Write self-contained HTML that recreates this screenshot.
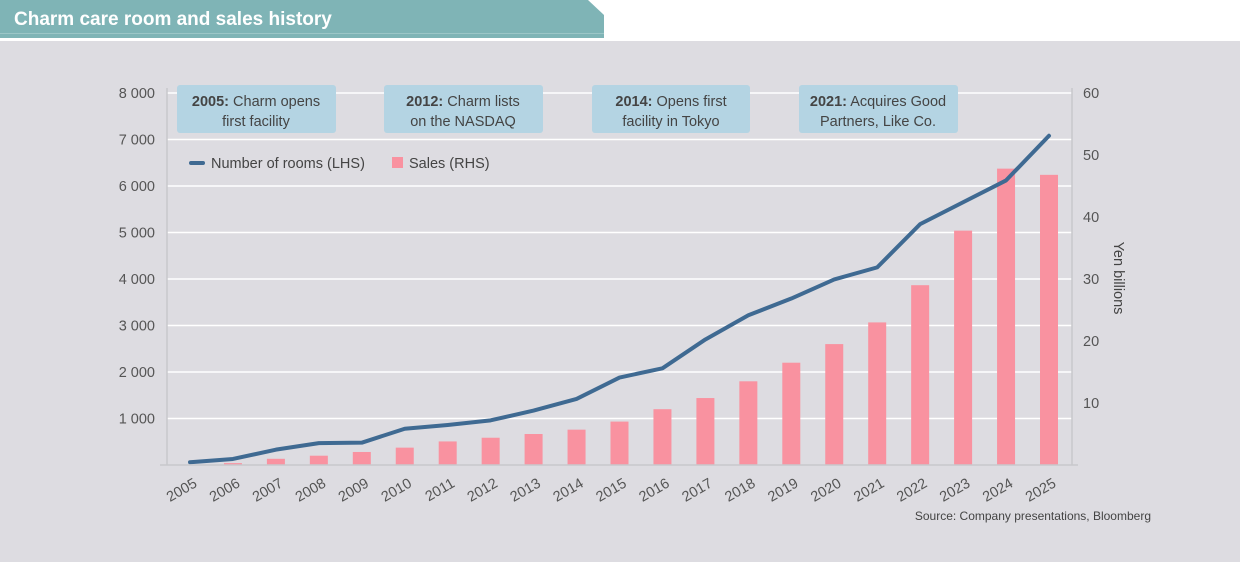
<!DOCTYPE html>
<html><head><meta charset="utf-8"><style>
body{margin:0;width:1240px;height:562px;overflow:hidden;background:#fff;font-family:"Liberation Sans",sans-serif}
svg text{font-family:"Liberation Sans",sans-serif}
</style></head><body>
<svg id="c" width="1240" height="562" xmlns="http://www.w3.org/2000/svg">
<rect x="0" y="41" width="1240" height="521" fill="#dddce1"/>
<polygon points="0,0 588,0 604,15 604,38 0,38" fill="#7fb4b6"/>
<rect x="0" y="33" width="604" height="1" fill="#9cc6c7"/>
<text x="14" y="25" font-size="19" font-weight="bold" fill="#fff">Charm care room and sales history</text>
<g id="grid"></g><g id="bars"></g><g id="line"></g><g id="axes"></g>
<g>
<rect x="177" y="85" width="159" height="48" rx="3" fill="#b4d4e3"/>
<text x="256" y="106" font-size="14.5" fill="#444" text-anchor="middle"><tspan font-weight="bold">2005:</tspan> Charm opens</text>
<text x="256" y="126" font-size="14.5" fill="#444" text-anchor="middle">first facility</text>
<rect x="384" y="85" width="159" height="48" rx="3" fill="#b4d4e3"/>
<text x="463" y="106" font-size="14.5" fill="#444" text-anchor="middle"><tspan font-weight="bold">2012:</tspan> Charm lists</text>
<text x="463" y="126" font-size="14.5" fill="#444" text-anchor="middle">on the NASDAQ</text>
<rect x="592" y="85" width="158" height="48" rx="3" fill="#b4d4e3"/>
<text x="671" y="106" font-size="14.5" fill="#444" text-anchor="middle"><tspan font-weight="bold">2014:</tspan> Opens first</text>
<text x="671" y="126" font-size="14.5" fill="#444" text-anchor="middle">facility in Tokyo</text>
<rect x="799" y="85" width="159" height="48" rx="3" fill="#b4d4e3"/>
<text x="878" y="106" font-size="14.5" fill="#444" text-anchor="middle"><tspan font-weight="bold">2021:</tspan> Acquires Good</text>
<text x="878" y="126" font-size="14.5" fill="#444" text-anchor="middle">Partners, Like Co.</text>
</g>
<g>
<rect x="189" y="161" width="16" height="4" rx="2" fill="#3f6a92"/>
<text x="211" y="168" font-size="14.5" fill="#444">Number of rooms (LHS)</text>
<rect x="392" y="157" width="11" height="11" fill="#f992a0"/>
<text x="409" y="168" font-size="14.5" fill="#444">Sales (RHS)</text>
</g>
<text transform="translate(1114,278) rotate(90)" font-size="14.5" fill="#444" text-anchor="middle">Yen billions</text>
<text x="1151" y="520" font-size="12" fill="#444" text-anchor="end">Source: Company presentations, Bloomberg</text>
</svg>
<script>
const years=["2005","2006","2007","2008","2009","2010","2011","2012","2013","2014","2015","2016","2017","2018","2019","2020","2021","2022","2023","2024","2025"];
const rooms=[60,130,330,470,480,780,860,960,1170,1420,1880,2080,2700,3220,3580,3990,4250,5180,5650,6120,7080];
const sales=[0,0.3,1,1.5,2.1,2.8,3.8,4.4,5,5.7,7,9,10.8,13.5,16.5,19.5,23,29,37.8,47.8,46.8];
const leftTicks=[1000,2000,3000,4000,5000,6000,7000,8000];
const leftLabels=["1 000","2 000","3 000","4 000","5 000","6 000","7 000","8 000"];
const rightTicks=[10,20,30,40,50,60];
const NS="http://www.w3.org/2000/svg";
const x0=190,dx=42.95,yB=465;
const X=i=>x0+i*dx, YL=v=>yB-v*0.0465, YR=v=>yB-v*6.2;
function mk(t,a,p){const e=document.createElementNS(NS,t);for(const k in a)e.setAttribute(k,a[k]);p.appendChild(e);return e;}
const grid=document.getElementById('grid'),bars=document.getElementById('bars'),line=document.getElementById('line'),axes=document.getElementById('axes');
leftTicks.forEach((v,i)=>{
 const g=mk('line',{x1:167,x2:1072,y1:YL(v),y2:YL(v),stroke:'#fff','stroke-width':1.5},grid);
 
 
 const t=mk('text',{x:155,y:YL(v)+5,'font-size':14.5,fill:'#555','text-anchor':'end'},axes);
 t.textContent=leftLabels[i];
 
 
});
rightTicks.forEach(v=>{
 const t=mk('text',{x:1083,y:YR(v)+5,'font-size':14.5,fill:'#555'},axes);
 t.textContent=v;
 
 
});
sales.forEach((v,i)=>{
 const r=mk('rect',{x:X(i)-9,y:YR(v),width:18,height:yB-YR(v),fill:'#f992a0'},bars);
 
 
});
const p=mk('polyline',{points:rooms.map((v,i)=>X(i)+','+YL(v)).join(' '),fill:'none',stroke:'#3f6a92','stroke-width':4,'stroke-linejoin':'round','stroke-linecap':'round'},line);


const a1=mk('line',{x1:167,x2:167,y1:88,y2:465,stroke:'#c8c8cc','stroke-width':1.5},axes);


const a2=mk('line',{x1:1072,x2:1072,y1:88,y2:465,stroke:'#c8c8cc','stroke-width':1.5},axes);


const a3=mk('line',{x1:160,x2:1078,y1:465,y2:465,stroke:'#c8c8cc','stroke-width':1.5},axes);


years.forEach((y,i)=>{
 const t=mk('text',{transform:`translate(${X(i)+8},${486}) rotate(-30)`,'font-size':14.5,fill:'#555','text-anchor':'end'},axes);
 t.textContent=y;
 
 
});
</script>
</body></html>
